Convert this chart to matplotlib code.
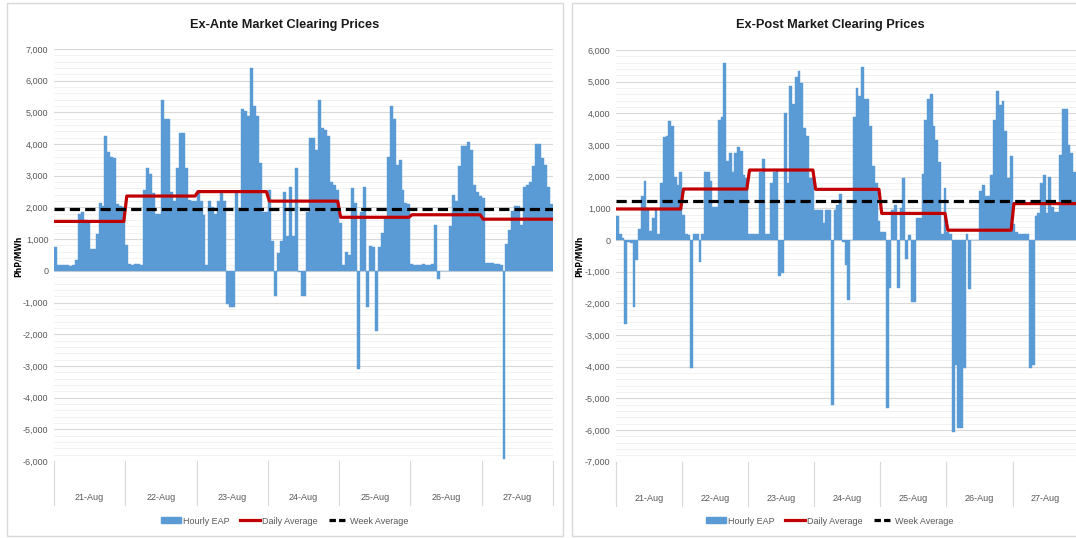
import numpy as np
import matplotlib
matplotlib.use("Agg")
import matplotlib.pyplot as plt
from matplotlib.patches import Rectangle, Patch
from matplotlib.lines import Line2D
from matplotlib.ticker import MultipleLocator, FuncFormatter

plt.rcParams['font.family'] = ['Liberation Sans Narrow', 'Liberation Sans', 'DejaVu Sans']

days = ['21-Aug', '22-Aug', '23-Aug', '24-Aug', '25-Aug', '26-Aug', '27-Aug']

# hourly ex-ante prices (PhP/MWh), one row per day
ex_ante_hourly = [
    750, 180, 190, 180, 170, 160, 170, 350, 1800, 1850, 1600, 1500, 700, 700, 1150, 2150, 2050, 4250, 3750, 3600, 3550, 2100, 2050, 2000,
    830, 220, 200, 210, 220, 200, 2550, 3250, 3050, 2450, 1800, 1800, 5400, 4780, 4780, 2500, 2200, 3250, 4350, 4350, 3250, 2250, 2200, 2200,
    2450, 2200, 1750, 200, 2200, 2000, 1800, 2200, 2450, 2200, -1050, -1130, -1130, 2450, 1900, 5100, 5050, 4900, 6400, 5200, 4900, 3400, 1850, 1850,
    2550, 950, -780, 550, 950, 2500, 1100, 2650, 1100, 3250, -50, -800, -800, 1850, 4200, 4200, 3800, 5400, 4500, 4450, 4250, 2800, 2700, 2550,
    1500, 200, 600, 500, 2600, 2150, -3100, 1850, 2650, -1150, 780, 750, -1900, 750, 1200, 1700, 3600, 5200, 4800, 3350, 3500, 2550, 2150, 2100,
    220, 200, 190, 200, 210, 190, 200, 210, 1450, -250, 0, 0, 0, 1400, 2400, 2200, 3300, 3950, 3950, 4050, 3800, 2700, 2500, 2350,
    2300, 250, 250, 240, 230, 220, 200, -5950, 850, 1300, 1900, 2050, 2050, 1450, 2650, 2700, 2800, 3300, 4000, 4000, 3550, 3350, 2650, 2100,
]
ex_ante_daily = [1560, 2360, 2500, 2200, 1690, 1770, 1630]
ex_ante_week = 1960

# hourly ex-post prices (PhP/MWh)
ex_post_hourly = [
    750, 180, 50, -2650, -50, -80, -2100, -630, 350, 1400, 1850, 1000, 300, 700, 950, 200, 1800, 3250, 3300, 3750, 3600, 2000, 1750, 2150,
    800, 200, 150, -4050, 200, 200, -700, 200, 2150, 2150, 1850, 1050, 1050, 3800, 3900, 5600, 2500, 2750, 2150, 2750, 2950, 2800, 2050, 1950,
    200, 200, 200, 200, 2150, 2550, 200, 200, 1800, 2150, 2200, -1150, -1050, 4000, 1800, 4850, 4300, 5150, 5350, 4950, 3550, 3300, 1950, 1950,
    950, 950, 950, 550, 950, 950, -5200, 950, 1100, 1450, -50, -800, -1900, 0, 3900, 4800, 4550, 5450, 4450, 4450, 3600, 2350, 1800, 600,
    250, 250, -5300, -1500, 950, 1100, -1500, 1000, 1950, -600, 150, -1950, -1950, 700, 700, 2100, 3800, 4450, 4600, 3600, 3150, 2450, 200, 1650,
    250, 200, -6050, -3950, -5950, -5950, -4050, 200, -1550, 0, 0, 0, 1550, 1750, 1400, 1400, 2050, 3800, 4700, 4250, 4400, 3450, 1950, 2650,
    500, 250, 200, 200, 200, 200, -4050, -3950, 750, 850, 1800, 2050, 850, 2000, 1050, 900, 900, 2700, 4150, 4150, 3000, 2750, 2150, 2100,
]
ex_post_daily = [980, 1610, 2210, 1600, 840, 310, 1150]
ex_post_week = 1230

BLUE = '#5B9BD5'
RED = '#C00000'
GREY_TXT = '#595959'

W, H = 1076, 538
fig = plt.figure(figsize=(W / 100, H / 100), dpi=100)


def fx(px):
    return px / W


def fy(py):
    return 1 - py / H


def panel(rect, hourly, daily, week, ylim, title, title_x, frame, ylabel_x):
    # frame around the chart area
    fx0, fx1 = frame
    fig.patches.append(Rectangle((fx(fx0), fy(536)), fx(fx1 - fx0), 533 / H,
                                 transform=fig.transFigure, fill=False,
                                 edgecolor='#D9D9D9', lw=1.0, zorder=0))
    ax = fig.add_axes(rect)
    hours = np.arange(len(hourly))
    ax.bar(hours, hourly, width=1.0, color=BLUE, edgecolor=BLUE, lw=0.3, zorder=2)
    ax.plot(hours, np.repeat(daily, 24), color=RED, lw=2.3, zorder=3)
    ax.plot([-0.5, len(hourly) - 0.5], [week, week], color='black', lw=2.3,
            dashes=(3.2, 1.6), zorder=4)

    ax.set_xlim(-0.5, len(hourly) - 0.5)
    ax.set_ylim(*ylim)
    ax.yaxis.set_major_locator(MultipleLocator(1000))
    ax.yaxis.set_minor_locator(MultipleLocator(200))
    ax.yaxis.set_major_formatter(FuncFormatter(lambda v, p: f'{v:,.0f}'))
    ax.grid(axis='y', which='major', color='#D9D9D9', lw=0.8, zorder=0)
    ax.grid(axis='y', which='minor', color='#F0F0F0', lw=0.6, zorder=0)
    ax.set_axisbelow(True)
    for s in ax.spines.values():
        s.set_visible(False)
    ax.tick_params(axis='y', which='both', length=0, labelsize=6.5, labelcolor=GREY_TXT, pad=4)
    ax.tick_params(axis='x', which='both', length=0, labelbottom=False)

    # day labels with separators below the plot
    trans = ax.get_xaxis_transform()
    ax_h = rect[3] * H
    for i, d in enumerate(days):
        ax.text(i * 24 + 11.5, -36.5 / ax_h, d, transform=trans, ha='center', va='center',
                fontsize=6.5, color=GREY_TXT)
    for i in range(len(days) + 1):
        ax.plot([i * 24 - 0.5, i * 24 - 0.5], [0, -44 / ax_h], transform=trans,
                color='#D9D9D9', lw=0.8, clip_on=False)

    fig.text(fx(title_x), fy(25), title, ha='center', va='center',
             fontsize=9.2, fontweight='bold', color='#1a1a1a')
    fig.text(fx(ylabel_x), fy(256), 'PhP/MWh', rotation=90, ha='center', va='center',
             fontsize=5.5, fontweight='bold', color='black', family=['DejaVu Sans'])

    handles = [Patch(facecolor=BLUE, edgecolor=BLUE),
               Line2D([], [], color=RED, lw=2.3),
               Line2D([], [], color='black', lw=2.3, dashes=(2, 1))]
    fig.legend(handles, ['Hourly EAP', 'Daily Average', 'Week Average'],
               loc='center', bbox_to_anchor=(fx(title_x), fy(521)), ncol=3,
               frameon=False, fontsize=6.5, handlelength=2.2, handleheight=0.6,
               columnspacing=1.2, handletextpad=0.2, labelcolor=GREY_TXT)
    return ax


panel([fx(54), fy(461), fx(553 - 54), (461 - 49) / H], ex_ante_hourly, ex_ante_daily,
      ex_ante_week, (-6000, 7000), 'Ex-Ante Market Clearing Prices', 285, (7, 563), 18)
panel([fx(616), fy(461.7), fx(462.6), (461.7 - 50) / H], ex_post_hourly, ex_post_daily,
      ex_post_week, (-7000, 6000), 'Ex-Post Market Clearing Prices', 830, (572, 1090), 579)

fig.savefig('out.png', dpi=100)
